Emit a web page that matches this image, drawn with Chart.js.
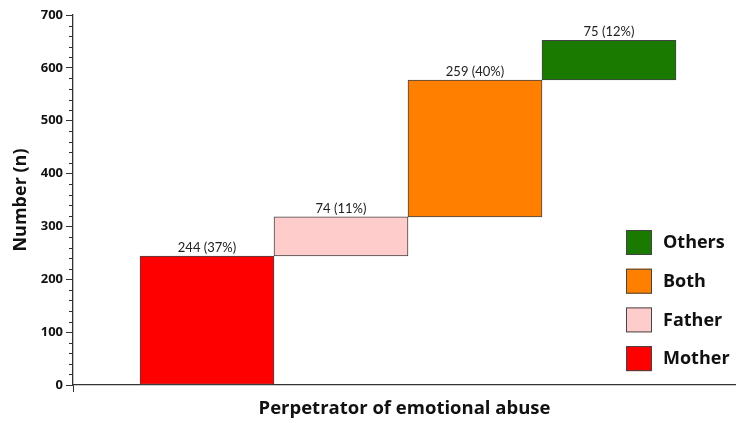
<!DOCTYPE html>
<html>
<head>
<meta charset="utf-8">
<script src="https://cdn.jsdelivr.net/npm/chart.js@4/dist/chart.umd.min.js"></script>
<style>
  html, body { margin: 0; padding: 0; background: #fff; }
  #wrap { width: 736px; height: 423px; }
</style>
</head>
<body>
<div id="wrap"><canvas id="myChart" width="736" height="423"></canvas></div>
<script>
// waterfall: each group stacks on the previous total
const categories = ["Mother", "Father", "Both", "Others"];
const counts = [244, 74, 259, 75];
const shares = ["37%", "11%", "40%", "12%"];
const colors = ["#ff0000", "#ffcccc", "#ff7f00", "#1a7a00"];
const yTicks = [0, 100, 200, 300, 400, 500, 600, 700];

const FONT = "'Open Sans', Lato, sans-serif";
const LABEL_FONT = "Lato, 'Open Sans', sans-serif";

let running = 0;
const datasets = categories.map((name, i) => {
  const start = running;
  running += counts[i];
  return {
    label: name,
    data: [{ x: i + 1, y: [start, running] }],
    backgroundColor: colors[i],
    borderColor: "#444444",
    borderWidth: 1,
    borderSkipped: false,
    grouped: false,
    barPercentage: 1,
    categoryPercentage: 1,
  };
});

const extrasPlugin = {
  id: "extras",
  afterDatasetsDraw(chart) {
    const ctx = chart.ctx;
    const yScale = chart.scales.y;
    const xScale = chart.scales.x;
    ctx.save();

    // minor ticks on y axis
    ctx.strokeStyle = "#333";
    ctx.lineWidth = 1;
    for (let v = 20; v < 700; v += 20) {
      if (v % 100 === 0) continue;
      const py = Math.round(yScale.getPixelForValue(v)) + 0.5;
      ctx.beginPath();
      ctx.moveTo(xScale.left - 4, py);
      ctx.lineTo(xScale.left, py);
      ctx.stroke();
    }

    // value labels above bars
    ctx.fillStyle = "#222";
    ctx.font = "13px " + LABEL_FONT;
    ctx.textAlign = "center";
    ctx.textBaseline = "bottom";
    chart.data.datasets.forEach((ds, i) => {
      const bar = chart.getDatasetMeta(i).data[0];
      ctx.fillText(counts[i] + " (" + shares[i] + ")", bar.x, bar.y - 2);
    });

    // legend, top entry is the last group
    ctx.font = "bold 18px " + FONT;
    ctx.textAlign = "left";
    ctx.textBaseline = "middle";
    const order = categories.map((c, i) => i).reverse();
    order.forEach((i, row) => {
      const top = 230 + row * 38.7;
      ctx.fillStyle = colors[i];
      ctx.fillRect(626, top, 26, 25);
      ctx.strokeStyle = "#444";
      ctx.strokeRect(626.5, top + 0.5, 25, 24);
      ctx.fillStyle = "#111";
      ctx.fillText(categories[i], 663, top + 13);
    });

    ctx.restore();
  },
};

new Chart(document.getElementById("myChart"), {
  type: "bar",
  data: { datasets },
  plugins: [extrasPlugin],
  options: {
    responsive: false,
    animation: false,
    layout: { padding: { top: 15, right: 0, left: 0, bottom: 0 } },
    plugins: {
      legend: { display: false },
      tooltip: { enabled: false },
    },
    scales: {
      x: {
        type: "linear",
        offset: false,
        min: 0,
        max: 663 / 134,
        afterBuildTicks(scale) { scale.ticks = [{ value: 0 }]; },
        ticks: { display: false },
        grid: {
          offset: false,
          drawOnChartArea: false,
          tickLength: 7,
          tickColor: "#333",
        },
        border: { color: "#333", width: 1.3 },
        title: {
          display: true,
          text: "Perpetrator of emotional abuse",
          color: "#111",
          font: { family: FONT, size: 18.5, weight: "bold" },
          padding: { top: 0, bottom: 3 },
        },
        afterFit(scale) { scale.height = 38; },
      },
      y: {
        min: 0,
        max: 700,
        afterBuildTicks(scale) { scale.ticks = yTicks.map((v) => ({ value: v })); },
        ticks: {
          color: "#111",
          padding: 3,
          font: { family: FONT, size: 13, weight: "bold" },
        },
        grid: { drawOnChartArea: false, tickLength: 7, tickColor: "#333" },
        border: { color: "#333", width: 1.3 },
        title: {
          display: true,
          text: "Number (n)",
          color: "#111",
          font: { family: FONT, size: 18, weight: "bold" },
          padding: { top: 10, bottom: 0 },
        },
        afterFit(scale) { scale.width = 73; },
      },
    },
  },
});
</script>
</body>
</html>
